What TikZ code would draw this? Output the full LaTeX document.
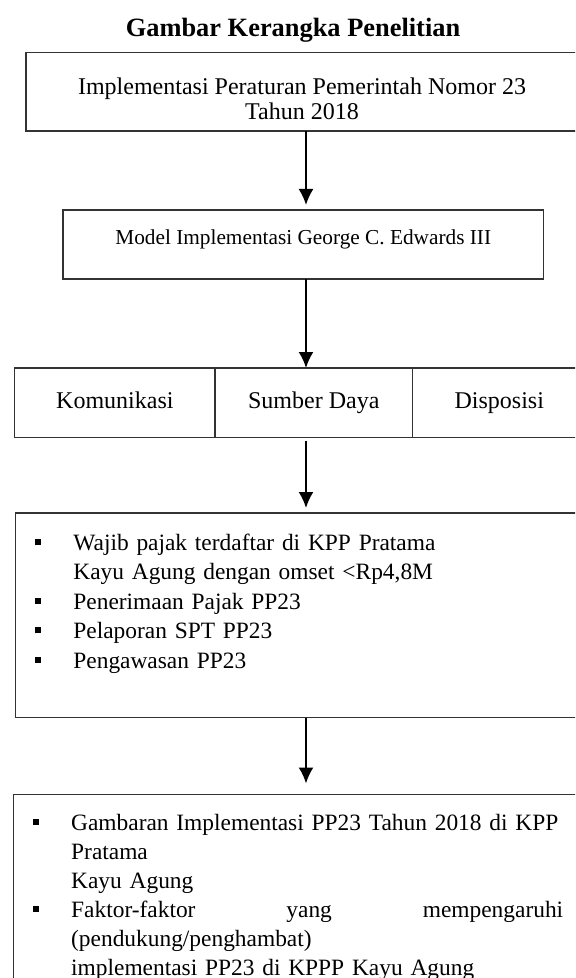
\documentclass[tikz,border=0pt]{standalone}
\usepackage{fontspec}
\setmainfont{Liberation Serif}
\usetikzlibrary{positioning,arrows.meta}
\newcommand\sqb{\leavevmode\llap{\rule[2.6pt]{3pt}{3pt}\hspace{16pt}}}
\tikzset{
  frame/.style={draw=black!80,line width=.6pt,inner sep=0pt,outer sep=0pt,anchor=north west},
  cell/.style={frame,minimum height=34.75pt,text height=8.5pt,text depth=2.5pt,font=\fontsize{12}{14}\selectfont},
  list/.style={inner sep=0pt,align=left,text width=250pt,font=\fontsize{11.7}{14.7}\selectfont},
  flow/.style={->,line width=1pt}
}
\begin{document}
\begin{tikzpicture}[x=.5pt,y=-.5pt,>={Latex[length=8pt,width=7.5pt]}]
\clip (0,0) rectangle (575,978);
\coordinate (axis) at (306,0);
% title
\node[anchor=base,font=\bfseries\fontsize{13.2}{16}\selectfont] (title) at (293,37) {Gambar Kerangka Penelitian};
% boxes
\node[frame,minimum width=276pt,minimum height=39.3pt,align=center,text height=28.3pt,text depth=0pt,
  font=\fontsize{12}{12.7}\selectfont] (pp) at (26,52.4) {Implementasi Peraturan Pemerintah Nomor 23\\Tahun 2018};
\node[frame,minimum width=240.25pt,minimum height=34.5pt,text height=7.5pt,text depth=7pt,
  font=\fontsize{10.65}{13}\selectfont] (model) at (63,210) {Model Implementasi George C. Edwards III};
\node[cell,minimum width=100.15pt] (kom) at (14.7,368) {Komunikasi};
\node[cell,minimum width=98.75pt] (sd) at (kom.north east) {Sumber Daya};
\node[cell,minimum width=86.75pt] (disp) at (sd.north east) {Disposisi};
\node[frame,minimum width=285.3pt,minimum height=102.3pt] (obj) at (15.4,513) {};
\node[list,below right=10.3pt and 28.8pt of obj.north west] (objtxt) {%
\sqb Wajib pajak terdaftar di KPP Pratama\\
Kayu Agung dengan omset <Rp4,8M\\
\sqb Penerimaan Pajak PP23\\
\sqb Pelaporan SPT PP23\\
\sqb Pengawasan PP23};
\node[frame,minimum width=286.2pt,minimum height=100pt] (out) at (13.6,794.5) {};
\node[list,font=\fontsize{11.7}{14.5}\selectfont,below right=9.5pt and 28.6pt of out.north west] (outtxt) {%
\sqb\makebox[246pt][s]{Gambaran Implementasi PP23 Tahun 2018 di KPP}\\
Pratama\\
Kayu Agung\\
\sqb\makebox[246pt][s]{Faktor-faktor\hfill yang\hfill mempengaruhi}\\
(pendukung/penghambat)\\
implementasi PP23 di KPPP Kayu Agung};
% arrows
\draw[flow] (pp.south -| axis) -- ([yshift=2.5pt]model.north -| axis);
\draw[flow] (model.south -| axis) -- (sd.north -| axis);
\draw[flow] ([yshift=-1.5pt]sd.south -| axis) -- ([yshift=2.5pt]obj.north -| axis);
\draw[flow] (obj.south -| axis) -- ([yshift=5.5pt]out.north -| axis);
\end{tikzpicture}
\end{document}
